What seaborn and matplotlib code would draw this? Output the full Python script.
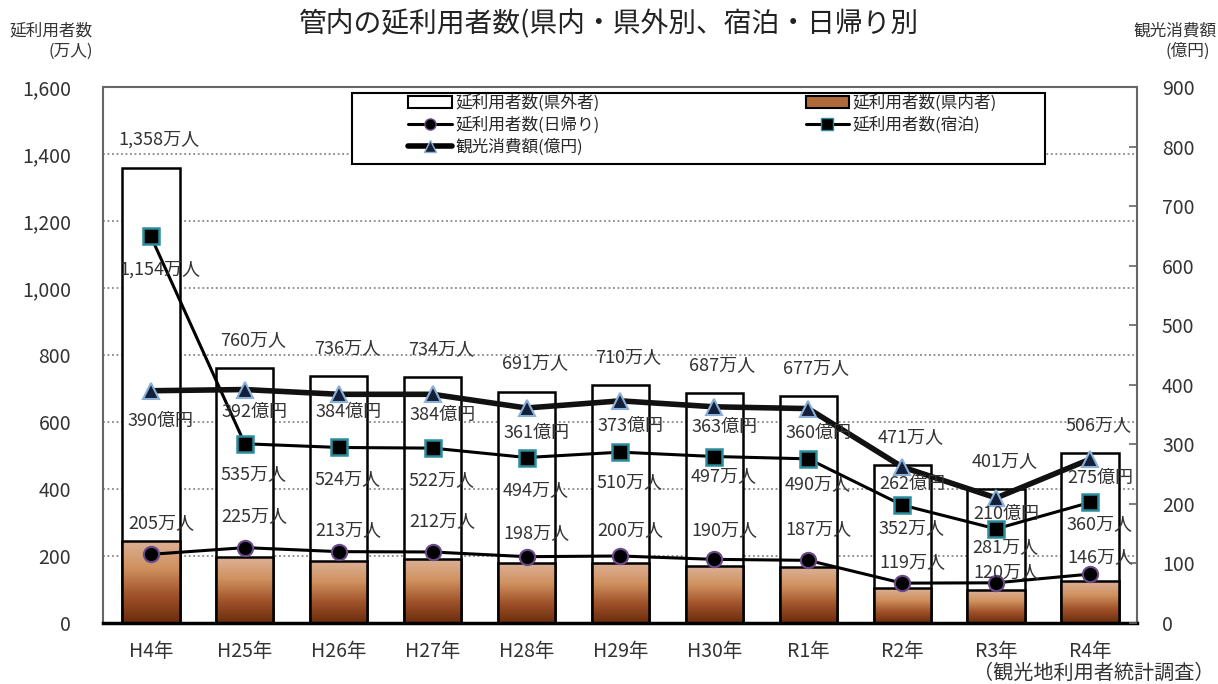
"""
Visitors and tourism spending chart
"""

import numpy as np
import pandas as pd
import matplotlib

matplotlib.use("Agg")
import matplotlib.pyplot as plt
import seaborn as sns
from matplotlib.colors import LinearSegmentedColormap
from matplotlib.lines import Line2D
from matplotlib.patches import Patch, Rectangle
from matplotlib.ticker import FuncFormatter, MultipleLocator

# data
years = ["H4年", "H25年", "H26年", "H27年", "H28年", "H29年",
         "H30年", "R1年", "R2年", "R3年", "R4年"]
total = [1358, 760, 736, 734, 691, 710, 687, 677, 471, 401, 506]
in_pref = [245, 197, 185, 191, 179, 179, 170, 167, 104, 98, 125]
daytrip = [205, 225, 213, 212, 198, 200, 190, 187, 119, 120, 146]
overnight = [1154, 535, 524, 522, 494, 510, 497, 490, 352, 281, 360]
spending = [390, 392, 384, 384, 361, 373, 363, 360, 262, 210, 275]

# label offsets in pixels (positive = up)
day_dy = [31, 32, 22, 31, 24, 26, 29, 31, 21, 11, 17]
night_dy = [-33, -30, -32, -32, -33, -30, -20, -25, -23, -18, -22]
spend_dy = [-30, -22, -18, -21, -25, -25, -20, -24, -17, -16, -19]

TXT = "#333333"


def put_labels(axis, xs, ys, texts, dx, dys):
    for x, y, t, dy in zip(xs, ys, texts, dys):
        axis.annotate(t, (x, y), xytext=(dx * 0.72, dy * 0.72),
                      textcoords="offset points", ha="center", va="center",
                      fontsize=13, color=TXT, zorder=6)


sns.set_style("white")
plt.rcParams["font.family"] = ["Noto Sans CJK JP", "DejaVu Sans"]

fig = plt.figure(figsize=(12.18, 6.84), dpi=100)
ax = fig.add_axes([103 / 1218, 1 - 623 / 684, 1034 / 1218, 536 / 684])

df = pd.DataFrame({"year": years, "total": total, "in_pref": in_pref})
pos = np.arange(len(years))

# total bars (white) and in-prefecture bars (gradient brown)
sns.barplot(data=df, x="year", y="total", color="white", saturation=1,
            edgecolor="black", linewidth=1.8, width=0.61, ax=ax, zorder=2)
n0 = len(ax.patches)
sns.barplot(data=df, x="year", y="in_pref", color="#b06a3a", saturation=1,
            edgecolor="black", linewidth=1.8, width=0.61, ax=ax, zorder=3)

cmap = LinearSegmentedColormap.from_list(
    "brown", ["#6a2c0c", "#a0522a", "#d0915f", "#dcb196"])
grad = np.linspace(0, 1, 256).reshape(-1, 1)
for p in ax.patches[n0:]:
    bb = p.get_bbox()
    im = ax.imshow(grad, extent=[bb.x0, bb.x1, bb.y0, bb.y1], origin="lower",
                   aspect="auto", cmap=cmap, zorder=2.5)
    im.set_clip_path(p)
    p.set_facecolor("none")

# day trip and overnight lines (left axis)
sns.lineplot(x=pos, y=daytrip, ax=ax, color="black", linewidth=2.2,
             marker="o", markersize=11, markerfacecolor="black",
             markeredgecolor="#6a4a8a", markeredgewidth=1.5,
             errorbar=None, zorder=4)
sns.lineplot(x=pos, y=overnight, ax=ax, color="black", linewidth=2.2,
             marker="s", markersize=11, markerfacecolor="black",
             markeredgecolor="#2a8c9c", markeredgewidth=1.8,
             errorbar=None, zorder=4)

put_labels(ax, pos, total, [f"{v:,}万人" for v in total], 8, [28] * len(total))
put_labels(ax, pos, overnight, [f"{v:,}万人" for v in overnight], 9, night_dy)
put_labels(ax, pos, daytrip, [f"{v:,}万人" for v in daytrip], 10, day_dy)

ax.set_xlim(-0.51, 10.5)
ax.set_ylim(0, 1600)
ax.yaxis.set_major_locator(MultipleLocator(200))
ax.yaxis.set_major_formatter(FuncFormatter(lambda v, p: f"{int(v):,}"))
ax.grid(axis="y", linestyle=(0, (1, 1.5)), color="#888888", linewidth=1.3)
ax.set_axisbelow(True)
ax.set_xlabel("")
ax.set_ylabel("")
ax.set_xticks(np.arange(-0.5, 11, 1), minor=True)
ax.tick_params(axis="x", which="major", length=0, labelsize=14,
               labelcolor=TXT, pad=13)
ax.tick_params(axis="x", which="minor", direction="in", length=6,
               width=1.5, color="black")
ax.tick_params(axis="y", length=0, labelsize=14, labelcolor=TXT, pad=23)
for s in ["top", "left", "right"]:
    ax.spines[s].set_color("#666666")
    ax.spines[s].set_linewidth(1.5)
ax.spines["bottom"].set_color("black")
ax.spines["bottom"].set_linewidth(2.5)

# tourism spending (right axis)
ax2 = ax.twinx()
sns.lineplot(x=pos, y=spending, ax=ax2, color="#111111", linewidth=4,
             marker="^", markersize=11, markerfacecolor="#14203a",
             markeredgecolor="#8ab0d8", markeredgewidth=1.5,
             errorbar=None, zorder=4)
put_labels(ax2, pos, spending, [f"{v}億円" for v in spending], 10, spend_dy)
ax2.set_ylim(0, 900)
ax2.set_xlim(-0.51, 10.5)
ax2.yaxis.set_major_locator(MultipleLocator(100))
ax2.set_ylabel("")
ax2.tick_params(axis="y", direction="in", length=6, width=1.2,
                color="#666666", labelsize=14, labelcolor=TXT, pad=18)
for s in ax2.spines.values():
    s.set_visible(False)

# legend with a white framed box
fig.add_artist(Rectangle((352 / 1218, 1 - 164 / 684), 693 / 1218, 71 / 684,
                         transform=fig.transFigure, facecolor="white",
                         edgecolor="black", linewidth=1.5, zorder=4))
handles = [
    Patch(facecolor="white", edgecolor="black", linewidth=1.5),
    Line2D([], [], color="black", lw=2.2, marker="o", markersize=8,
           markerfacecolor="black", markeredgecolor="#6a4a8a"),
    Line2D([], [], color="black", lw=4, marker="^", markersize=8,
           markerfacecolor="#14203a", markeredgecolor="#8ab0d8"),
    Patch(facecolor="#b06a3a", edgecolor="black", linewidth=1.5),
    Line2D([], [], color="black", lw=2.2, marker="s", markersize=8,
           markerfacecolor="black", markeredgecolor="#2a8c9c"),
]
labels = ["延利用者数(県外者)", "延利用者数(日帰り)", "観光消費額(億円)",
          "延利用者数(県内者)", "延利用者数(宿泊)"]
leg = fig.legend(handles, labels, loc="upper left", ncol=2, mode="expand",
                 bbox_to_anchor=(400 / 1218, 1 - 93 / 684, 605 / 1218, 0.01),
                 frameon=False, fontsize=12, borderpad=0,
                 handlelength=2.6, handletextpad=0.2, labelspacing=0.3)
leg.set_zorder(5)

# titles and notes
fig.text(0.5, 0.965, "管内の延利用者数(県内・県外別、宿泊・日帰り別",
         ha="center", va="center", fontsize=20, color="#222222")
fig.text(0.042, 0.955, "延利用者数", ha="center", va="center",
         fontsize=12, color=TXT)
fig.text(0.058, 0.925, "(万人)", ha="center", va="center",
         fontsize=12, color=TXT)
fig.text(0.965, 0.955, "観光消費額", ha="center", va="center",
         fontsize=12, color=TXT)
fig.text(0.975, 0.925, "(億円)", ha="center", va="center",
         fontsize=12, color=TXT)
fig.text(0.997, 0.0, "（観光地利用者統計調査）", ha="right", va="bottom",
         fontsize=14.5, color=TXT)

fig.savefig("out.png", dpi=100)
